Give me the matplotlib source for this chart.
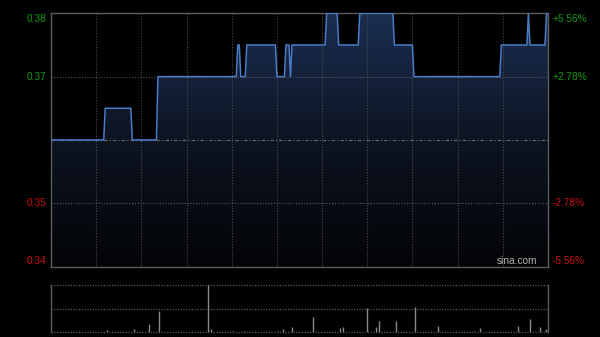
import numpy as np
import matplotlib
matplotlib.use("Agg")
import matplotlib.pyplot as plt
from matplotlib.transforms import offset_copy
from matplotlib.colors import LinearSegmentedColormap

# ---- data ----
prev_close = 0.36
run_values = [0.36, 0.365, 0.36, 0.37, 0.375, 0.37, 0.375, 0.37, 0.375, 0.37,
              0.375, 0.38, 0.375, 0.38, 0.375, 0.37, 0.375, 0.38, 0.375, 0.38]
run_lengths = [36, 18, 17, 53, 2, 4, 20, 6, 3, 1,
               23, 8, 14, 23, 13, 58, 18, 1, 11, 2]
vol_minutes = [37, 55, 65, 72, 104, 106, 120, 128, 151, 154, 160, 174, 192, 194,
               210, 216, 218, 229, 242, 257, 281, 285, 310, 318, 325, 329]
vol_values = [3.7, 5.2, 17.2, 44.6, 100, 5.2, 2, 2, 2, 5.2, 9.5, 31.7, 7.3, 9.5,
              50.4, 9.5, 23, 23, 53.2, 12.9, 2, 7.3, 12.9, 27.4, 9.5, 5.2]
left_ticks = [0.38, 0.37, 0.35, 0.34]
left_labels = ["0.38", "0.37", "0.35", "0.34"]
right_labels = ["+5.56%", "+2.78%", "-2.78%", "-5.56%"]
tick_colors = ["#139a13", "#139a13", "#cc1010", "#cc1010"]

prices = np.repeat(run_values, run_lengths)
minutes = np.arange(len(prices))
n_min = 330

W, H = 600, 337
fig = plt.figure(figsize=(W / 100, H / 100), dpi=100, facecolor="black")

def px_axes(x0, y0, x1, y1):
    return fig.add_axes([x0 / W, 1 - y1 / H, (x1 - x0) / W, (y1 - y0) / H])

ax = px_axes(51, 13.3, 548, 266.5)
ax.set_facecolor("black")
ax.set_xlim(0, n_min)
ax.set_ylim(0.34, 0.38)

# gradient fill under line
cmap = LinearSegmentedColormap.from_list("g", ["#030406", "#0d1422", "#1b2f52"])
grad = np.linspace(0, 1, 256).reshape(-1, 1)
im = ax.imshow(grad, extent=[0, n_min, 0.34, 0.38], origin="lower", cmap=cmap,
               aspect="auto", zorder=1)
poly = ax.fill_between(minutes, prices, 0.34, facecolor="none", edgecolor="none")
im.set_clip_path(poly.get_paths()[0], transform=ax.transData)

# grid
for m in range(30, n_min, 30):
    ax.axvline(m, color="#4a4a4a", lw=0.8, ls=(0, (1, 1.5)), zorder=2)
for v in [0.37, 0.35]:
    ax.axhline(v, color="#5a5a5a", lw=0.8, ls=(0, (1, 1.5)), zorder=2)
ax.axhline(prev_close, color="#606060", lw=0.9, ls=(0, (3, 1.5, 1, 1.5)), zorder=2)

ax.plot(minutes, prices, color="#4a7bc6", lw=1.1, zorder=3)

for s in ax.spines.values():
    s.set_color("#5c5c5c")
    s.set_linewidth(1)
ax.set_xticks([])
ax.set_yticks([])

offsets = [-4.0, 0, 0, 4.2]
for v, ll, rl, c, off in zip(left_ticks, left_labels, right_labels, tick_colors, offsets):
    tl = offset_copy(ax.get_yaxis_transform(), fig=fig, x=-3, y=off, units="points")
    ax.text(0, v, ll, transform=tl, ha="right", va="center", color=c,
            fontsize=7.3, family="Liberation Sans")
    tr = offset_copy(ax.get_yaxis_transform(), fig=fig, x=3.5, y=off, units="points")
    ax.text(1, v, rl, transform=tr, ha="left", va="center", color=c,
            fontsize=7.3, family="Liberation Sans")

ax.text(0.979, 0.003, "sina.com", transform=ax.transAxes, ha="right", va="bottom",
        color="#b0b0b0", fontsize=7.3, family="Liberation Sans", zorder=4)

# volume panel
vax = px_axes(51, 285.3, 548, 331.7)
vax.set_facecolor("black")
vax.set_xlim(0, n_min)
vax.set_ylim(0, max(vol_values))
vax.vlines(vol_minutes, 0, vol_values, color="#8a8a8a", lw=1.0, zorder=3)
for v in [0, max(vol_values) / 2, max(vol_values)]:
    vax.axhline(v, color="#5a5a5a", lw=0.9, ls=(0, (1, 1.2)), zorder=2, clip_on=False)
for k in ["top", "bottom"]:
    vax.spines[k].set_visible(False)
for k in ["left", "right"]:
    vax.spines[k].set_color("#5c5c5c")
    vax.spines[k].set_linewidth(1)
vax.set_xticks([])
vax.set_yticks([])

fig.savefig("out.png", dpi=100, facecolor="black")
